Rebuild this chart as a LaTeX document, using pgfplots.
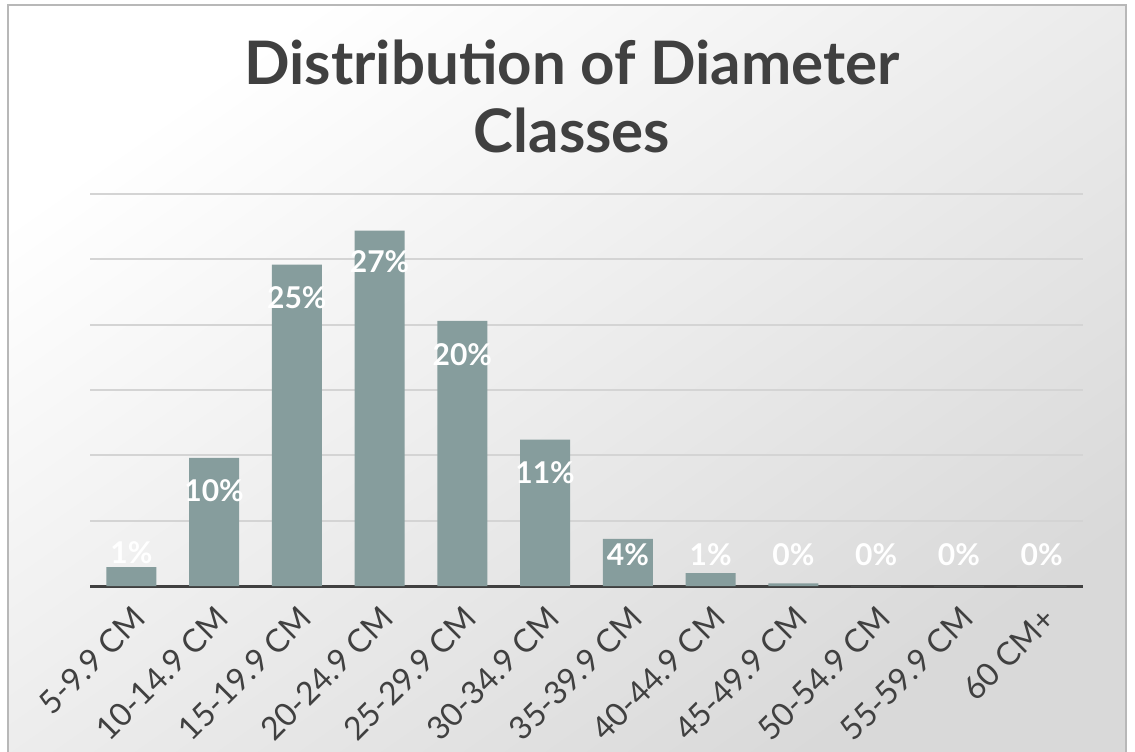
\documentclass[border=0pt]{standalone}
\usepackage{pgfplots}
\pgfplotsset{compat=1.18}
\usepackage{fontspec}
\setmainfont{Lato}
\definecolor{barc}{HTML}{869D9D}
\definecolor{txt}{HTML}{404040}
\begin{document}
\begin{tikzpicture}
\useasboundingbox (0,0) rectangle (567.5pt,375.5pt);
\fill[white] (0,0) rectangle (567.5pt,375.5pt);
\shade[top color=white, bottom color=black!15, shading angle=35] (4pt,-2pt) rectangle (563pt,373pt);
\draw[black!28, line width=0.8pt] (4pt,-2pt) rectangle (563pt,373pt);
\node[text=txt, align=center, font=\fontsize{30}{34}\selectfont\bfseries] at (286pt,327.5pt) {Distribution of Diameter\\Classes};
\begin{axis}[
  at={(45pt,82.5pt)}, anchor=south west,
  scale only axis, width=496.5pt, height=196pt,
  xmin=-0.5, xmax=11.5, ymin=0, ymax=30,
  axis x line*=bottom, axis y line*=left,
  y axis line style={draw=none},
  x axis line style={txt, line width=1.5pt, -},
  ytick={0,5,...,30}, yticklabels={},
  ymajorgrids, grid style={black!17, line width=0.9pt},
  major tick length=0pt,
  xtick={0,...,11},
  xticklabels={5-9.9 CM,10-14.9 CM,15-19.9 CM,20-24.9 CM,25-29.9 CM,30-34.9 CM,35-39.9 CM,40-44.9 CM,45-49.9 CM,50-54.9 CM,55-59.9 CM,60 CM+},
  xticklabel style={rotate=45, anchor=north east, inner sep=0pt, text=txt, font=\fontsize{16}{16}\selectfont},
  xticklabel shift=9pt,
  clip=false,
]
\addplot[ybar, bar width=25pt, bar shift=0pt, fill=barc, draw=none]
  coordinates {(0,1.45) (1,9.8) (2,24.6) (3,27.2) (4,20.3) (5,11.2) (6,3.6) (7,0.99) (8,0.2) (9,0) (10,0) (11,0)};
\addplot[draw=none, mark=none, nodes near coords, point meta=explicit symbolic,
  every node near coord/.append style={anchor=center, text=white, font=\fontsize{15}{15}\selectfont\bfseries}]
  coordinates {(0,2.52)[1\%] (1,7.26)[10\%] (2,22.1)[25\%] (3,24.8)[27\%] (4,17.7)[20\%] (5,8.7)[11\%] (6,2.37)[4\%] (7,2.37)[1\%] (8,2.37)[0\%] (9,2.37)[0\%] (10,2.37)[0\%] (11,2.37)[0\%]};
\end{axis}
\end{tikzpicture}
\end{document}
